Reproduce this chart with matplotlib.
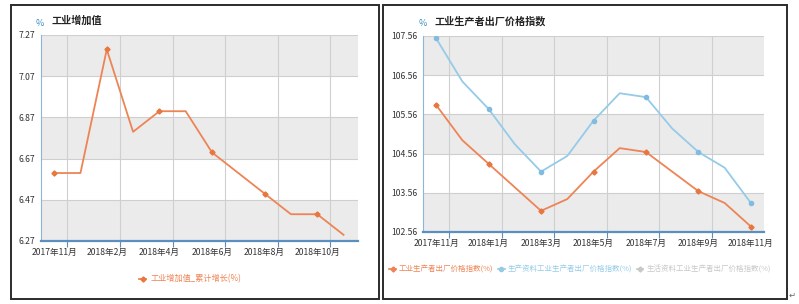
import matplotlib
matplotlib.use('Agg')
import matplotlib.pyplot as plt
from matplotlib.patches import Rectangle
from matplotlib.lines import Line2D

plt.rcParams['font.family'] = ['Noto Sans CJK SC', 'DejaVu Sans']
plt.rcParams['axes.unicode_minus'] = False

# 数据
left_months = ['2017年11月', '2017年12月', '2018年2月', '2018年3月', '2018年4月', '2018年5月',
               '2018年6月', '2018年7月', '2018年8月', '2018年9月', '2018年10月', '2018年11月']
left_values = [6.6, 6.6, 7.2, 6.8, 6.9, 6.9, 6.7, 6.6, 6.5, 6.4, 6.4, 6.3]
left_yticks = [6.27, 6.47, 6.67, 6.87, 7.07, 7.27]

right_months = ['2017年11月', '2017年12月', '2018年1月', '2018年2月', '2018年3月', '2018年4月',
                '2018年5月', '2018年6月', '2018年7月', '2018年8月', '2018年9月', '2018年10月',
                '2018年11月']
ppi = [105.8, 104.9, 104.3, 103.7, 103.1, 103.4, 104.1, 104.7, 104.6, 104.1, 103.6, 103.3, 102.7]
ppi_prod = [107.5, 106.4, 105.7, 104.8, 104.1, 104.5, 105.4, 106.1, 106.0, 105.2, 104.6, 104.2, 103.3]
right_yticks = [102.56, 103.56, 104.56, 105.56, 106.56, 107.56]

ORANGE = '#EE8455'
BLUE = '#95CBE8'
GRAY_LEG = '#C8C8C8'
BAND = '#EBEBEB'
GRID = '#CFCFCF'
AXIS_BLUE = '#5B8FC2'
TXT = '#333333'
W, H = 799, 304


def fx(px):
    return px / W


def fy(py):
    return 1 - py / H


fig = plt.figure(figsize=(7.99, 3.04), dpi=100)

# 外框
for x0, x1 in [(11, 379), (383, 787)]:
    fig.add_artist(Rectangle((fx(x0), fy(299)), fx(x1 - x0), (299 - 5) / H,
                             transform=fig.transFigure, fill=False,
                             edgecolor='#2b2b2b', linewidth=1.4))


def style_axes(ax, labels, yticks, gray_bands):
    n = len(labels)
    x = list(range(n))
    for lo, hi in gray_bands:
        ax.axhspan(lo, hi, color=BAND, zorder=0, linewidth=0)
    for yt in yticks:
        ax.axhline(yt, color=GRID, linewidth=0.8, zorder=1)
    bounds = [i + 0.5 for i in range(0, n - 1, 2)]
    for b in bounds:
        ax.axvline(b, color=GRID, linewidth=0.8, zorder=1)
    ax.set_xticks(x[::2])
    ax.set_xticklabels(labels[::2], fontsize=6.2, color=TXT)
    ax.set_xticks(bounds, minor=True)
    ax.tick_params(axis='x', which='major', length=0, pad=5)
    ax.tick_params(axis='x', which='minor', length=4, color=AXIS_BLUE, width=0.8)
    ax.set_yticks(yticks)
    ax.set_yticklabels([f'{v:.2f}' for v in yticks], fontsize=6.2, color=TXT)
    ax.tick_params(axis='y', length=0, pad=4)
    for s in ['top', 'right']:
        ax.spines[s].set_visible(False)
    ax.spines['left'].set_color('#8DB4D9')
    ax.spines['left'].set_linewidth(0.8)
    ax.spines['bottom'].set_color(AXIS_BLUE)
    ax.spines['bottom'].set_linewidth(1.6)
    ax.set_facecolor('white')
    return x


# 左图：工业增加值
ax1 = fig.add_axes([fx(41), fy(241), fx(358 - 41), (241 - 35) / H])
x1 = style_axes(ax1, left_months, left_yticks, [(7.07, 7.27), (6.67, 6.87), (6.27, 6.47)])
ax1.plot(x1, left_values, color=ORANGE, linewidth=1.3, marker='D', markersize=2.6,
         markevery=2, markerfacecolor='#E8763F', markeredgecolor='#E8763F', zorder=3,
         label='工业增加值_累计增长(%)')
ax1.set_xlim(-0.5, 11.55)
ax1.set_ylim(6.27, 7.27)
fig.text(fx(40), fy(23), '%', color='#3A8FC9', fontsize=6.5, ha='center', va='center')
fig.text(fx(52), fy(21), '工业增加值', color='#222222', fontsize=7.3, fontweight='bold',
         ha='left', va='center')
leg1 = ax1.legend(loc='center', bbox_to_anchor=(fx(190), fy(279)), bbox_transform=fig.transFigure,
                  frameon=False, fontsize=5.9, handlelength=0.9, handletextpad=0.5)
for t in leg1.get_texts():
    t.set_color(ORANGE)

# 右图：工业生产者出厂价格指数
ax2 = fig.add_axes([fx(423), fy(232), fx(764 - 423), (232 - 36) / H])
x2 = style_axes(ax2, right_months, right_yticks,
                [(106.56, 107.56), (104.56, 105.56), (102.56, 103.56)])
ax2.plot(x2, ppi, color=ORANGE, linewidth=1.3, marker='D', markersize=2.6, markevery=2,
         markerfacecolor='#E8763F', markeredgecolor='#E8763F', zorder=3)
ax2.plot(x2, ppi_prod, color=BLUE, linewidth=1.3, marker='o', markersize=3, markevery=2,
         markerfacecolor='#7FBCE0', markeredgecolor='#7FBCE0', zorder=3)
ax2.set_xlim(-0.5, 12.5)
ax2.set_ylim(102.56, 107.56)
fig.text(fx(423), fy(24), '%', color='#3A8FC9', fontsize=6.5, ha='center', va='center')
fig.text(fx(435), fy(21), '工业生产者出厂价格指数', color='#222222', fontsize=7.3,
         fontweight='bold', ha='left', va='center')

handles = [
    Line2D([], [], color=ORANGE, marker='D', markersize=2.6, linewidth=1.2),
    Line2D([], [], color=BLUE, marker='o', markersize=3, linewidth=1.2),
    Line2D([], [], color=GRAY_LEG, marker='D', markersize=2.6, linewidth=1.2),
]
names = ['工业生产者出厂价格指数(%)', '生产资料工业生产者出厂价格指数(%)', '生活资料工业生产者出厂价格指数(%)']
leg2 = ax2.legend(handles, names, loc='center', bbox_to_anchor=(fx(580), fy(270)),
                  bbox_transform=fig.transFigure, ncol=3, frameon=False, fontsize=5.4,
                  handlelength=0.9, handletextpad=0.4, columnspacing=0.6)
for t, c in zip(leg2.get_texts(), [ORANGE, BLUE, GRAY_LEG]):
    t.set_color(c)

fig.text(fx(792), fy(295), '↵', color='#666666', fontsize=6, ha='center', va='center')

fig.savefig('out.png', dpi=100)
plt.close(fig)
